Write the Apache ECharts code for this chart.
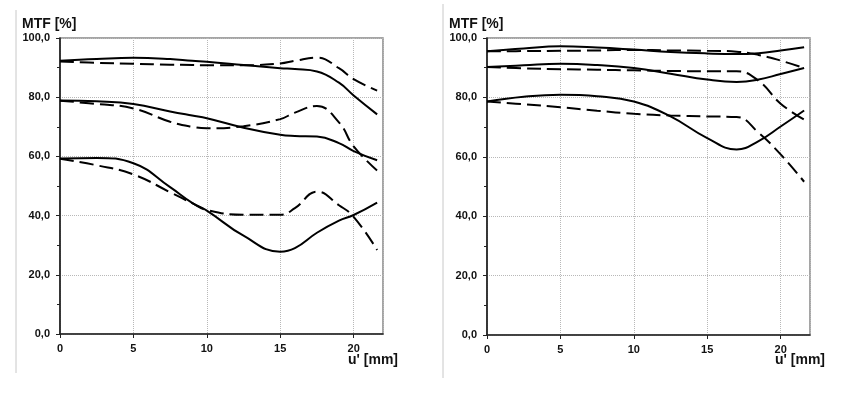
<!DOCTYPE html>
<html>
<head>
<meta charset="utf-8">
<script src="https://cdn.jsdelivr.net/npm/echarts@6/dist/echarts.min.js"></script>
<style>
	html, body { margin: 0; padding: 0; background: #fff; }
	#mtf-container { width: 846px; height: 397px; }
</style>
</head>
<body>
<div id="mtf-container"></div>
<script>

// u' positions [mm]
var leftX = [0, 2.5, 5, 7.5, 9, 10, 12.5, 15, 16, 17.5, 19, 20, 21.6];
var rightX = [0, 2.5, 5, 7.5, 10, 12.5, 15, 17, 18.5, 20, 21.6];

// left chart, MTF [%]
var leftSolidTop = [92.3, 92.9, 93.3, 92.9, 92.3, 92.0, 90.9, 89.8, 89.5, 88.7, 84.9, 80.6, 74.2];
var leftDashTop = [92.1, 91.6, 91.3, 91.0, 90.9, 90.8, 90.8, 91.4, 92.3, 93.4, 89.8, 86.1, 82.2];
var leftSolidMid = [78.9, 78.6, 77.7, 75.2, 73.8, 72.9, 69.7, 67.3, 66.9, 66.7, 64.5, 61.8, 58.7];
var leftDashMid = [78.8, 77.7, 76.2, 71.7, 70.0, 69.5, 70.2, 72.6, 74.8, 77.0, 71.5, 63.4, 55.2];
var leftSolidLow = [59.3, 59.5, 57.7, 49.6, 44.3, 41.7, 33.2, 27.8, 29.0, 34.2, 38.3, 40.2, 44.4];
var leftDashLow = [59.2, 57.0, 53.9, 47.9, 44.2, 41.9, 40.3, 40.3, 42.5, 48.1, 43.5, 39.6, 28.4];

// right chart, MTF [%]
var rightSolidTop = [95.5, 96.5, 97.2, 96.8, 96.1, 95.3, 94.8, 94.6, 94.9, 95.8, 96.9];
var rightDashTop = [95.5, 95.6, 95.7, 95.8, 96.0, 95.8, 95.7, 95.4, 94.3, 92.4, 89.9];
var rightSolidMid = [90.2, 90.8, 91.3, 90.9, 89.9, 88.0, 86.0, 85.2, 86.0, 87.9, 89.9];
var rightDashMid = [90.2, 89.8, 89.5, 89.3, 89.1, 88.9, 88.8, 88.8, 85.6, 77.9, 72.5];
var rightSolidLow = [78.6, 80.2, 80.9, 80.4, 78.6, 73.6, 66.3, 62.5, 65.3, 70.2, 75.6];
var rightDashLow = [78.6, 77.7, 76.7, 75.5, 74.5, 73.9, 73.6, 73.4, 68.1, 60.8, 51.6];

var yTicks = [0, 20, 40, 60, 80, 100];
var xTicks = [0, 5, 10, 15, 20];

var FONT = '"Liberation Sans", Arial, sans-serif';

function toPoints(xs, ys) {
	var pts = [];
	for (var i = 0; i < xs.length; i++) {
		pts.push([xs[i], ys[i]]);
	}
	return pts;
}

function makeXAxis(idx) {
	return {
		type : 'value',
		gridIndex : idx,
		min : 0,
		max : 22,
		interval : 5,
		axisLine : { lineStyle : { color : '#222', width : 1.5 } },
		axisTick : { show : true, length : 4, lineStyle : { color : '#222' } },
		axisLabel : {
			margin : 9,
			color : '#111',
			fontFamily : FONT,
			fontWeight : 'bold',
			fontSize : 11,
			showMaxLabel : false,
			formatter : function (v) {
				return xTicks.indexOf(v) >= 0 ? String(v) : '';
			}
		},
		splitLine : { show : true, lineStyle : { color : '#b8b8b8', type : 'dotted', width : 1 } }
	};
}

function makeYAxis(idx) {
	return {
		type : 'value',
		gridIndex : idx,
		min : 0,
		max : 100,
		interval : 20,
		axisLine : { show : true, lineStyle : { color : '#111', width : 1.5 } },
		axisTick : { show : true, length : 4, lineStyle : { color : '#222' } },
		minorTick : { show : true, splitNumber : 2, length : 3, lineStyle : { color : '#222' } },
		axisLabel : {
			margin : 10,
			color : '#111',
			fontFamily : FONT,
			fontWeight : 'bold',
			fontSize : 11,
			formatter : function (v) {
				return yTicks.indexOf(v) >= 0 ? v.toFixed(1).replace('.', ',') : '';
			}
		},
		splitLine : { show : true, lineStyle : { color : '#b8b8b8', type : 'dotted', width : 1 } }
	};
}

function makeLine(idx, xs, ys, dashed) {
	return {
		type : 'line',
		xAxisIndex : idx,
		yAxisIndex : idx,
		data : toPoints(xs, ys),
		smooth : 0.45,
		symbol : 'none',
		silent : true,
		lineStyle : {
			color : '#000',
			width : 2,
			type : dashed ? [14, 6] : 'solid'
		}
	};
}

function textEl(x, y, txt, size) {
	return {
		type : 'text',
		left : x,
		top : y,
		style : {
			text : txt,
			fill : '#111',
			font : 'bold ' + size + 'px ' + FONT
		}
	};
}

function sepLine(x, y1, y2) {
	return {
		type : 'line',
		shape : { x1 : x, y1 : y1, x2 : x, y2 : y2 },
		style : { stroke : '#c8c8c8', lineWidth : 1 }
	};
}

var myChart = echarts.init(document.getElementById('mtf-container'));

var option = {
	animation : false,
	backgroundColor : '#fff',
	grid : [
		{ left : 60, top : 38, width : 323, height : 296, show : true, borderColor : '#888', borderWidth : 1.5, backgroundColor : 'transparent' },
		{ left : 487, top : 38, width : 323, height : 297, show : true, borderColor : '#888', borderWidth : 1.5, backgroundColor : 'transparent' }
	],
	xAxis : [makeXAxis(0), makeXAxis(1)],
	yAxis : [makeYAxis(0), makeYAxis(1)],
	series : [
		makeLine(0, leftX, leftSolidTop, false),
		makeLine(0, leftX, leftDashTop, true),
		makeLine(0, leftX, leftSolidMid, false),
		makeLine(0, leftX, leftDashMid, true),
		makeLine(0, leftX, leftSolidLow, false),
		makeLine(0, leftX, leftDashLow, true),
		makeLine(1, rightX, rightSolidTop, false),
		makeLine(1, rightX, rightDashTop, true),
		makeLine(1, rightX, rightSolidMid, false),
		makeLine(1, rightX, rightDashMid, true),
		makeLine(1, rightX, rightSolidLow, false),
		makeLine(1, rightX, rightDashLow, true)
	],
	graphic : [
		sepLine(16, 10, 373),
		sepLine(443, 4, 378),
		textEl(22, 17, 'MTF [%]', 14),
		textEl(449, 17, 'MTF [%]', 14),
		textEl(348, 353, "u' [mm]", 14),
		textEl(775, 353, "u' [mm]", 14)
	]
};

myChart.setOption(option);

</script>
</body>
</html>
